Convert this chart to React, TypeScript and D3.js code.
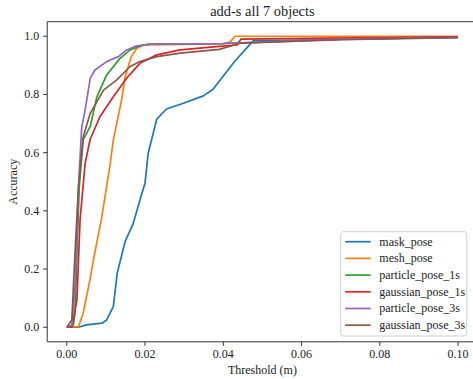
import * as d3 from "d3";

type Pt = [number, number];

// threshold (m) / accuracy pairs
const maskPose: Pt[] = [
  [0, 0], [0.003, 0], [0.005, 0.008], [0.009, 0.014], [0.0102, 0.025], [0.0119, 0.071],
  [0.0129, 0.186], [0.0149, 0.294], [0.017, 0.357], [0.0187, 0.437], [0.02, 0.495],
  [0.0208, 0.598], [0.023, 0.715], [0.0255, 0.75], [0.0298, 0.77], [0.0349, 0.795],
  [0.0374, 0.818], [0.0392, 0.85], [0.043, 0.915], [0.0477, 0.985], [0.05, 0.985],
  [0.06, 0.987], [0.08, 0.992], [0.1, 0.997],
];
const meshPose: Pt[] = [
  [0, 0], [0.003, 0.002], [0.0042, 0.048], [0.006, 0.168], [0.0068, 0.231], [0.0089, 0.375],
  [0.011, 0.552], [0.0119, 0.644], [0.014, 0.78], [0.0149, 0.86], [0.0165, 0.93],
  [0.0179, 0.959], [0.0196, 0.97], [0.03, 0.972], [0.04, 0.974], [0.0417, 0.98],
  [0.043, 1.0], [0.06, 1.0], [0.1, 1.0],
];
const particlePose1s: Pt[] = [
  [0, 0], [0.0017, 0.008], [0.0021, 0.048], [0.0026, 0.254], [0.0032, 0.483], [0.0042, 0.644],
  [0.006, 0.69], [0.0077, 0.792], [0.0102, 0.867], [0.0136, 0.924], [0.0162, 0.953],
  [0.0187, 0.967], [0.0213, 0.973], [0.03, 0.974], [0.04, 0.975], [0.05, 0.98],
  [0.07, 0.99], [0.1, 0.997],
];
const gaussianPose1s: Pt[] = [
  [0, 0], [0.0013, 0], [0.0026, 0.094], [0.0034, 0.369], [0.0047, 0.564], [0.006, 0.647],
  [0.0085, 0.724], [0.0119, 0.792], [0.0153, 0.856], [0.0187, 0.907], [0.023, 0.936],
  [0.029, 0.953], [0.039, 0.965], [0.0435, 0.97], [0.0445, 0.99], [0.06, 0.993], [0.1, 0.998],
];
const particlePose3s: Pt[] = [
  [0, 0], [0.0013, 0.008], [0.0021, 0.14], [0.003, 0.483], [0.0038, 0.685], [0.0047, 0.747],
  [0.006, 0.856], [0.0072, 0.884], [0.0102, 0.913], [0.0132, 0.93], [0.0153, 0.953],
  [0.0179, 0.967], [0.0213, 0.973], [0.03, 0.974], [0.04, 0.975], [0.05, 0.98],
  [0.07, 0.99], [0.1, 0.996],
];
const gaussianPose3s: Pt[] = [
  [0, 0], [0.0013, 0.025], [0.0021, 0.254], [0.003, 0.483], [0.0042, 0.655], [0.006, 0.735],
  [0.0094, 0.815], [0.0128, 0.85], [0.0162, 0.896], [0.0187, 0.913], [0.023, 0.93],
  [0.029, 0.942], [0.039, 0.955], [0.0443, 0.976], [0.05, 0.979], [0.07, 0.988], [0.1, 0.995],
];

const seriesNames = [
  "mask_pose", "mesh_pose", "particle_pose_1s", "gaussian_pose_1s", "particle_pose_3s", "gaussian_pose_3s",
];
const seriesData = [maskPose, meshPose, particlePose1s, gaussianPose1s, particlePose3s, gaussianPose3s];
const colors = ["#1f77b4", "#ff7f0e", "#2ca02c", "#d62728", "#9467bd", "#8c564b"];

const xTicks = [0, 0.02, 0.04, 0.06, 0.08, 0.1];
const yTicks = [0, 0.2, 0.4, 0.6, 0.8, 1.0];

const width = 473;
const height = 379;
const font = "'Liberation Serif', serif";

export default function App() {
  const x = d3.scaleLinear().domain([-0.005, 0.105]).range([47.2, 477.6]);
  const y = d3.scaleLinear().domain([-0.05, 1.05]).range([341.8, 21.7]);
  const [x0, x1] = x.range();
  const [y0, y1] = y.range();

  const line = d3
    .line<Pt>()
    .x((d) => x(d[0]))
    .y((d) => y(d[1]));

  const lg = { x: 340.7, y: 231.7, w: 126, h: 104.3, row: 16.7 };

  return (
    <svg
      width={width}
      height={height}
      style={{ position: "absolute", left: 0, top: 0, background: "white" }}
      fontFamily={font}
    >
      <rect width={width} height={height} fill="white" />
      <text x={(x0 + x1) / 2} y={16} textAnchor="middle" fontSize={14.4} fill="#222">
        add-s all 7 objects
      </text>

      {/* lines */}
      <g>
        {seriesData.map((s, i) => (
          <path key={i} d={line(s) ?? ""} fill="none" stroke={colors[i]} strokeWidth={1.7} strokeLinejoin="round" />
        ))}
      </g>

      {/* spines */}
      <g stroke="#333" strokeWidth={1} fill="none">
        <line x1={x0} x2={x1} y1={y0} y2={y0} />
        <line x1={x0} x2={x1} y1={y1} y2={y1} />
        <line x1={x0} x2={x0} y1={y0} y2={y1} />
      </g>

      {/* x axis */}
      <g fontSize={12} fill="#222">
        {xTicks.map((t) => (
          <g key={t}>
            <line x1={x(t)} x2={x(t)} y1={y0} y2={y0 + 4} stroke="#333" />
            <text x={x(t)} y={y0 + 16.5} textAnchor="middle">
              {t.toFixed(2)}
            </text>
          </g>
        ))}
        <text x={(x0 + x1) / 2} y={374} textAnchor="middle">
          Threshold (m)
        </text>
      </g>

      {/* y axis */}
      <g fontSize={12} fill="#222">
        {yTicks.map((t) => (
          <g key={t}>
            <line x1={x0 - 4} x2={x0} y1={y(t)} y2={y(t)} stroke="#333" />
            <text x={x0 - 8} y={y(t)} dy="0.33em" textAnchor="end">
              {t.toFixed(1)}
            </text>
          </g>
        ))}
        <text transform={`translate(17,${(y0 + y1) / 2}) rotate(-90)`} textAnchor="middle">
          Accuracy
        </text>
      </g>

      {/* legend */}
      <g>
        <rect x={lg.x} y={lg.y} width={lg.w} height={lg.h} rx={2.5} fill="white" fillOpacity={0.8} stroke="#d0d0d0" />
        {seriesNames.map((n, i) => {
          const ry = lg.y + 10 + i * lg.row;
          return (
            <g key={n}>
              <line x1={lg.x + 4.5} x2={lg.x + 30} y1={ry} y2={ry} stroke={colors[i]} strokeWidth={1.7} />
              <text x={lg.x + 38.6} y={ry} dy="0.33em" fontSize={12} fill="#222">
                {n}
              </text>
            </g>
          );
        })}
      </g>
    </svg>
  );
}
